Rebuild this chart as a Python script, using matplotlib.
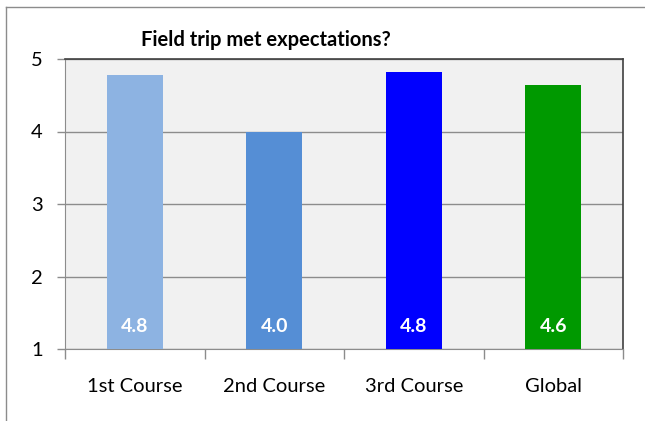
import matplotlib
matplotlib.use("Agg")
import matplotlib.pyplot as plt
import numpy as np
from matplotlib.lines import Line2D

# data
categories = ["1st Course", "2nd Course", "3rd Course", "Global"]
scores = [4.78, 3.99, 4.82, 4.64]
colors = ["#8DB3E2", "#558ED5", "#0000FF", "#009900"]
y_ticks = [1, 2, 3, 4, 5]

plt.rcParams["font.family"] = ["Lato", "DejaVu Sans"]

fig = plt.figure(figsize=(6.45, 4.21), dpi=100)
ax = fig.add_axes([65 / 645, 72 / 421, 558 / 645, 290 / 421])
ax.set_facecolor("#F1F1F1")

x = np.arange(len(categories))
ax.bar(x, np.array(scores) - 1, bottom=1, width=0.4, color=colors, zorder=3)

for xi, v in zip(x, scores):
    ax.text(xi, 1.31, f"{v:.1f}", ha="center", va="center", color="white",
            fontsize=14, fontweight="bold", zorder=4)

ax.set_ylim(1, 5)
ax.set_xlim(-0.5, len(categories) - 0.5)
ax.set_yticks(y_ticks)
ax.tick_params(axis="y", length=6, width=1, color="#8C8C8C", pad=10, labelsize=14.5)
ax.yaxis.grid(True, color="#8C8C8C", linewidth=1, zorder=1)

ax.set_xticks(x)
ax.set_xticklabels(categories)
ax.tick_params(axis="x", which="major", length=0, pad=21, labelsize=14.5)
ax.set_xticks(np.arange(-0.5, len(categories), 1), minor=True)
ax.tick_params(axis="x", which="minor", length=7, width=1, color="#8C8C8C")

for s in ["left", "bottom"]:
    ax.spines[s].set_color("#8C8C8C")
for s in ["top", "right"]:
    ax.spines[s].set_color("#404040")
    ax.spines[s].set_linewidth(1.2)

fig.text(266 / 645, 1 - 40 / 421, "Field trip met expectations?", ha="center",
         va="center", fontsize=14.5, fontweight="bold")

# outer chart frame (left and top edges visible)
fig.add_artist(Line2D([6 / 645, 6 / 645], [0, 1 - 7 / 421], transform=fig.transFigure,
                      color="#8C8C8C", linewidth=1))
fig.add_artist(Line2D([6 / 645, 1], [1 - 7 / 421, 1 - 7 / 421], transform=fig.transFigure,
                      color="#8C8C8C", linewidth=1))

fig.savefig("out.png", dpi=100)
